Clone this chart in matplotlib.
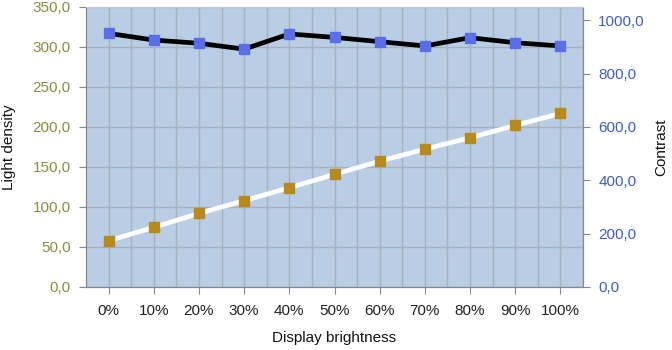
import matplotlib.pyplot as plt
import numpy as np
from matplotlib.ticker import FuncFormatter, MultipleLocator

plt.rcParams["font.family"] = ["Liberation Sans", "DejaVu Sans"]

categories = ["0%", "10%", "20%", "30%", "40%", "50%", "60%", "70%", "80%", "90%", "100%"]
light_density = [57.9, 74.6, 92.0, 107.9, 124.1, 140.8, 157.3, 172.3, 186.6, 202.0, 217.0]
contrast = [951, 926, 914, 892, 949, 936, 920, 904, 935, 916, 904]

bg = "#b9cde5"
grid_col = "#a9b0b8"
left_col = "#8c8c3c"
right_col = "#3f5ccf"
fs = 11


def comma_fmt(v, _pos):
    return f"{v:.1f}".replace(".", ",")


fig = plt.figure(figsize=(6.72, 3.5), dpi=100)
ax = fig.add_axes([0.128, 0.18, 0.7396, 0.80])
ax2 = ax.twinx()

x = np.arange(len(categories))
ax.set_facecolor(bg)
ax.set_xlim(-0.5, len(categories) - 0.5)
ax.set_ylim(0, 350)
ax2.set_ylim(0, 1050)

ax.yaxis.set_major_locator(MultipleLocator(50))
ax2.yaxis.set_major_locator(MultipleLocator(200))
ax.yaxis.set_major_formatter(FuncFormatter(comma_fmt))
ax2.yaxis.set_major_formatter(FuncFormatter(comma_fmt))
ax2.set_ylim(0, 1050)

ax.set_xticks(x)
ax.set_xticklabels(categories)
ax.set_xticks(np.arange(len(categories)) + 0.5, minor=True)

ax.grid(True, which="major", color=grid_col, lw=1)
ax.grid(True, which="minor", axis="x", color=grid_col, lw=1)
ax.set_axisbelow(True)

ax.plot(x, light_density, color="white", lw=3.4, marker="s", ms=6.5,
        mfc="#b88a1e", mec="#b88a1e", zorder=3)
ax2.plot(x, contrast, color="black", lw=3.4, marker="s", ms=6.5,
         mfc="#5a6ee8", mec="#5a6ee8", zorder=3)

for a in (ax, ax2):
    for side in ("left", "right", "bottom"):
        a.spines[side].set_color("#808890")
    a.spines["top"].set_color("#c8c8c8")

ax.tick_params(axis="y", colors="#808890", labelcolor=left_col, labelsize=fs, length=5, pad=6)
ax2.tick_params(axis="y", colors="#808890", labelcolor=right_col, labelsize=fs, length=5, pad=6)
ax.tick_params(axis="x", which="major", colors="#808890", labelcolor="#222222", labelsize=fs, length=5, pad=7)
ax.tick_params(axis="x", which="minor", length=0)

ax.set_ylabel("Light density", fontsize=fs, color="#111111")
ax2.set_ylabel("Contrast", fontsize=fs, color="#111111")
ax.set_xlabel("Display brightness", fontsize=fs, color="#111111")
ax.yaxis.set_label_coords(-0.14, 0.5)
ax2.yaxis.set_label_coords(1.143, 0.5)
ax.xaxis.set_label_coords(0.5, -0.158)

fig.savefig("out.png", dpi=100)
